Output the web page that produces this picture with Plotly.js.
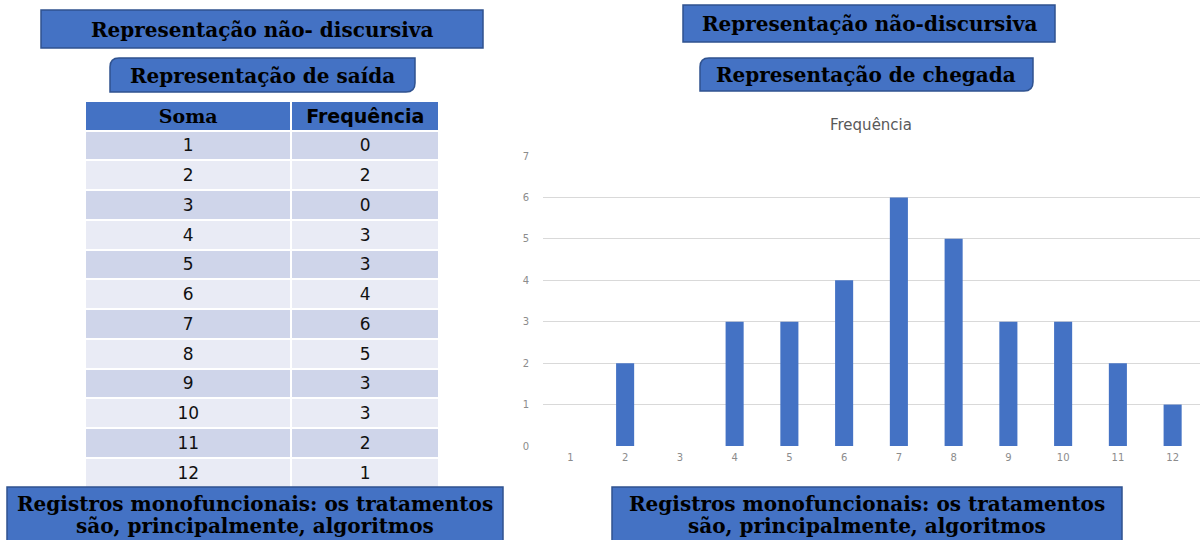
<!DOCTYPE html>
<html>
<head>
<meta charset="utf-8">
<script src="https://cdn.plot.ly/plotly-3.0.1.min.js"></script>
<style>html,body{margin:0;padding:0;background:#fff;}#chart{width:1200px;height:540px;}</style>
</head>
<body>
<div id="chart"></div>
<script>
// ---- data ----
var somas = [1, 2, 3, 4, 5, 6, 7, 8, 9, 10, 11, 12];
var frequencias = [0, 2, 0, 3, 3, 4, 6, 5, 3, 3, 2, 1];
var tableHeaders = ["Soma", "Frequência"];
var chartTitle = "Frequência";
var yTicks = [0, 1, 2, 3, 4, 5, 6, 7];
var boxTitleLeft1 = "Representação não- discursiva";
var boxTitleLeft2 = "Representação de saída";
var boxTitleRight1 = "Representação não-discursiva";
var boxTitleRight2 = "Representação de chegada";
var footerLine1 = "Registros monofuncionais: os tratamentos";
var footerLine2 = "são, principalmente, algoritmos";

// ---- helpers (pixel -> paper) ----
var W = 1200, H = 540;
function px(x) { return x / W; }
function py(y) { return 1 - y / H; }

var BLUE = "#4472C4", BORDER = "#2F528F";
var SERIF = "DejaVu Serif, serif";
var SANS = "DejaVu Sans, sans-serif";

function rectShape(x0, y0, x1, y1) {
  return {type: "rect", xref: "paper", yref: "paper", x0: px(x0), x1: px(x1), y0: py(y1), y1: py(y0),
    fillcolor: BLUE, line: {color: BORDER, width: 1.5}, layer: "above"};
}
function diagRoundShape(x0, y0, x1, y1, r) {
  var p = "M" + px(x0 + r) + "," + py(y0) +
    " L" + px(x1) + "," + py(y0) +
    " L" + px(x1) + "," + py(y1 - r) +
    " Q" + px(x1) + "," + py(y1) + " " + px(x1 - r) + "," + py(y1) +
    " L" + px(x0) + "," + py(y1) +
    " L" + px(x0) + "," + py(y0 + r) +
    " Q" + px(x0) + "," + py(y0) + " " + px(x0 + r) + "," + py(y0) + " Z";
  return {type: "path", xref: "paper", yref: "paper", path: p, fillcolor: BLUE,
    line: {color: BORDER, width: 1.5}, layer: "above"};
}
function label(text, xc, yc, size) {
  return {text: text, xref: "paper", yref: "paper", x: px(xc), y: py(yc),
    xanchor: "center", yanchor: "middle", showarrow: false,
    font: {family: SERIF, size: size, color: "#000", weight: "bold"}};
}

// ---- table ----
var rowColors = somas.map(function (_, i) { return i % 2 === 0 ? "#CFD5EA" : "#E9EBF5"; });
var tableTrace = {
  type: "table",
  domain: {x: [px(85), px(440)], y: [py(495), py(101)]},
  columnwidth: [207, 148],
  header: {
    values: tableHeaders,
    align: "center",
    height: 29.5,
    fill: {color: BLUE},
    line: {color: "#ffffff", width: 2},
    font: {family: [SERIF, SANS], size: [19, 19], color: "#000", weight: "bold"}
  },
  cells: {
    values: [somas, frequencias],
    align: "center",
    height: 29.75,
    fill: {color: [rowColors, rowColors]},
    line: {color: "#ffffff", width: 2},
    font: {family: SANS, size: 17, color: "#111"}
  }
};

// ---- bar chart ----
var barTrace = {
  type: "bar",
  x: somas,
  y: frequencias,
  marker: {color: BLUE, line: {width: 0}},
  hoverinfo: "x+y"
};

var layout = {
  width: W, height: H,
  margin: {l: 0, r: 0, t: 0, b: 0},
  paper_bgcolor: "#fff", plot_bgcolor: "#fff",
  showlegend: false,
  bargap: 0.67,
  title: {text: chartTitle, xref: "paper", yref: "paper", x: px(871), y: py(125),
    xanchor: "center", yanchor: "middle", font: {family: SANS, size: 15, color: "#595959"}},
  xaxis: {domain: [px(543), px(1200)], range: [0.5, 12.5], tickvals: somas, ticktext: somas.map(String),
    showgrid: false, zeroline: false, showline: false, ticks: "", ticklabelstandoff: 4,
    tickfont: {family: SANS, size: 10, color: "#8c8c8c"}, fixedrange: true},
  yaxis: {domain: [py(446), py(156)], range: [0, 7], tickvals: yTicks, showgrid: true,
    gridcolor: "#D9D9D9", gridwidth: 1, zeroline: false, showline: false, ticks: "", ticklabelstandoff: 13,
    tickfont: {family: SANS, size: 10, color: "#8c8c8c"}, fixedrange: true},
  shapes: [
    rectShape(41, 10, 483, 48),
    diagRoundShape(110, 58, 415, 92, 9),
    rectShape(683, 5, 1055, 42),
    diagRoundShape(700, 58, 1033, 91, 9),
    rectShape(7, 487, 503, 541),
    rectShape(612, 487, 1122, 541)
  ],
  annotations: [
    label(boxTitleLeft1, 262, 30, 20),
    label(boxTitleLeft2, 262, 76, 20),
    label(boxTitleRight1, 869, 24, 20),
    label(boxTitleRight2, 866, 75, 20),
    label(footerLine1, 255, 504, 20),
    label(footerLine2, 255, 526, 20),
    label(footerLine1, 867, 504, 20),
    label(footerLine2, 867, 526, 20)
  ]
};

Plotly.newPlot("chart", [tableTrace, barTrace], layout, {displayModeBar: false, staticPlot: true});
</script>
</body>
</html>
